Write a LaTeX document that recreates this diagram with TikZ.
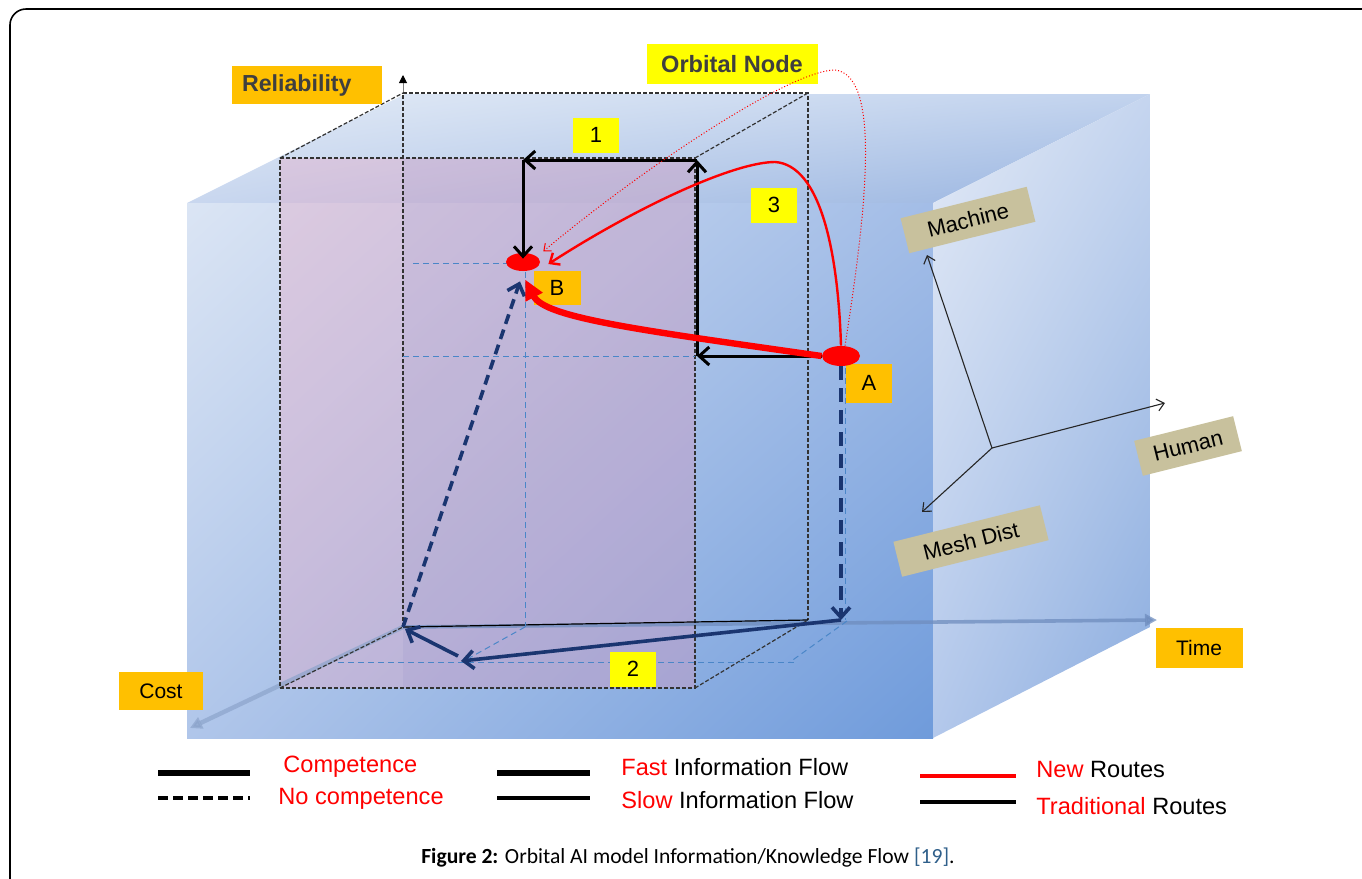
\documentclass[tikz,border=0pt]{standalone}
\usepackage{fontspec}
\setmainfont{Liberation Sans}
\newfontfamily\capfont{Carlito}
\usetikzlibrary{arrows.meta,shapes.geometric,shadings}
\definecolor{orangeL}{HTML}{FFC000}
\definecolor{yellowL}{HTML}{FFFF00}
\definecolor{tanL}{HTML}{C8C19D}
\definecolor{navyL}{HTML}{1A3570}
\definecolor{redL}{HTML}{FF0000}
\definecolor{txtgray}{HTML}{3F3F3F}
\definecolor{refblue}{HTML}{2F5F8A}
\definecolor{projblue}{HTML}{4A86C8}
\definecolor{axisgray}{HTML}{6F8DBE}
\definecolor{tUL}{HTML}{E3EBF6}
\definecolor{tUR}{HTML}{C2D3EE}
\definecolor{tLL}{HTML}{C9D7EF}
\definecolor{tLR}{HTML}{98B4E0}
\definecolor{fUL}{HTML}{DBE5F4}
\definecolor{fUR}{HTML}{A3BDE7}
\definecolor{fLL}{HTML}{B0C6EA}
\definecolor{fLR}{HTML}{6F9BDB}
\definecolor{sUL}{HTML}{E3EAF6}
\definecolor{sUR}{HTML}{C5D5EF}
\definecolor{sLL}{HTML}{B3C8EB}
\definecolor{sLR}{HTML}{8AACDF}
\definecolor{pinkT}{HTML}{E8A8C4}
\definecolor{lavT}{HTML}{7070B8}
\begin{document}
\begin{tikzpicture}[x=0.5pt,y=-0.5pt,
  obox/.style={fill=orangeL, inner sep=0pt, font=\fontsize{10.5}{12}\selectfont},
  ybox/.style={fill=yellowL, inner sep=0pt, minimum width=23pt, minimum height=17.5pt, font=\fontsize{11}{12}\selectfont},
  tbox/.style={fill=tanL, inner sep=0pt, minimum height=18pt, font=\fontsize{11}{12}\selectfont, rotate=14},
  ell/.style={ellipse, fill=redL, inner sep=0pt},
  wire/.style={black!80, line width=0.6pt, dash pattern=on 2pt off 1pt},
  proj/.style={projblue, line width=0.5pt, dash pattern=on 3pt off 2pt},
  trad/.style={black, line width=1.5pt, -{Straight Barb[length=5pt,width=9pt]}},
  navy/.style={navyL, line width=1.8pt, -{Straight Barb[length=5pt,width=9pt]}},
  rthick/.style={redL, line width=3.2pt, -{Triangle[length=10pt,width=9pt]}},
  rmid/.style={redL, line width=1.2pt, -{Straight Barb[length=4pt,width=7pt]}},
  rdot/.style={redL, line width=0.5pt, densely dotted, -{Straight Barb[length=3pt,width=5pt]}},
  small/.style={black!85, line width=0.55pt, -{Straight Barb[length=3.5pt,width=6pt]}},
  leg/.style={anchor=west, inner sep=0pt, font=\fontsize{11.8}{13}\selectfont}
]
\useasboundingbox (0,0) rectangle (1362,879);
% frame
\draw[black, line width=0.8pt, rounded corners=8pt] (10,900) -- (10,9) -- (1380,9);

% big cube
\shade[upper left=tUL, upper right=tUR, lower left=tLL, lower right=tLR]
  (187,203) -- (405,94) -- (1150,94) -- (933,203) -- cycle;
\shade[upper left=fUL, upper right=fUR, lower left=fLL, lower right=fLR]
  (187,203) -- (933,203) -- (933,738) -- (187,738) -- cycle;
\shade[upper left=sUL, upper right=sUR, lower left=sLL, lower right=sLR]
  (933,203) -- (1150,94) -- (1150,627) -- (933,738) -- cycle;

% inner box tint
\fill[fill=pinkT, fill opacity=0.38] (280,158) -- (695,158) -- (695,688) -- (280,688) -- cycle;
\fill[fill=lavT, fill opacity=0.09] (403,158) -- (695,158) -- (695,688) -- (403,688) -- cycle;

% axes
\coordinate (O) at (403,627);
\coordinate (Tend) at (1157,620);
\coordinate (Cend) at (190,728);
\coordinate (Rtop) at (403,93);
\coordinate (Rend) at (403,75);
\draw[axisgray, line width=1.8pt, opacity=0.75, -{Triangle[length=6pt,width=6pt]}] (O) -- (Tend);
\draw[axisgray!80, line width=2.2pt, opacity=0.7, -{Triangle[length=6pt,width=6pt]}] (O) -- (Cend);
\draw[black!50, line width=0.5pt, -{Triangle[length=4pt,width=4pt,color=black]}] (Rtop) -- (Rend);

% inner box wireframe
\draw[wire] (280,158) -- (695,158) -- (695,688) -- (280,688) -- cycle;
\draw[wire] (403,93) -- (808,93) -- (808,620);
\draw[wire] (O) -- (Rtop);
\draw[wire] (280,158) -- (403,93);
\draw[wire] (695,158) -- (808,93);
\draw[wire] (280,688) -- (O);
\draw[wire] (695,688) -- (808,620);
\draw[black, line width=0.6pt] (O) -- (808,620);

% projection lines
\draw[proj] (413,263) -- (508,263);
\draw[proj] (403,356) -- (695,356);
\draw[proj] (525,272) -- (525,627);
\draw[proj] (845,368) -- (845,620);
\draw[proj] (338,662) -- (795,662);
\draw[proj] (525,627) -- (462,662);
\draw[proj] (847,621) -- (790,662);

% labels
\node[obox, minimum width=75pt, minimum height=19pt, text width=65pt, align=left, font=\bfseries\fontsize{11.6}{13}\selectfont, text=txtgray] (rel) at (307,85) {Reliability};
\node[fill=yellowL, inner sep=0pt, minimum width=85.5pt, minimum height=20pt, font=\bfseries\fontsize{11.8}{13}\selectfont, text=txtgray] (orb) at (732,64) {Orbital Node};
\node[ybox] (n1) at (596,135) {1};
\node[ybox] (n3) at (774,205) {3};
\node[ybox] (n2) at (633,669) {2};
\node[obox, minimum width=23.5pt, minimum height=17pt, font=\fontsize{11}{12}\selectfont] (lB) at (557,288) {B};
\node[obox, minimum width=23pt, minimum height=19.5pt, font=\fontsize{11}{12}\selectfont] (lA) at (869,383) {A};
\node[obox, minimum width=42pt, minimum height=19pt] (cost) at (161,691) {Cost};
\node[obox, minimum width=43.5pt, minimum height=20pt] (time) at (1199,648) {Time};
\node[tbox, minimum width=65pt] (mach) at (968,220) {Machine};
\node[tbox, minimum width=51pt] (hum) at (1188,446) {Human};
\node[tbox, minimum width=75.5pt] (mesh) at (971,541) {Mesh Dist};

% points
\node[ell, minimum width=17pt, minimum height=9pt] (B) at (523,262) {};
\node[ell, minimum width=19pt, minimum height=10pt] (A) at (841,356) {};

% route 1 (traditional)
\coordinate (c1) at (697,356);
\coordinate (c2) at (697,160);
\coordinate (c3) at (B.north |- c2);
\draw[trad] (A.west) -- (c1);
\draw[trad] (c1) -- (c2);
\draw[trad] (c2) -- (c3);
\draw[trad] (c3) -- ([yshift=-3pt]B.north);

% route 2 (navy)
\coordinate (d1) at (A.south |- 0,620);
\coordinate (d2) at (461,661);
\coordinate (d3) at (458,656);
\draw[navy, dash pattern=on 7pt off 4pt] (A.south) -- (d1);
\draw[navy] (d1) -- (d2);
\draw[navy] (d3) -- ([shift={(2,2)}]O);
\draw[navy, dash pattern=on 5pt off 3pt] (O) -- ([shift={(-3,10)}]B.south);

% new routes (red)
\draw[rthick] (A.west) .. controls (640,330) and (545,318) .. ([shift={(2,8)}]B.south);
\draw[rmid] (A.north) .. controls (838,250) and (820,165) .. (775,162) .. controls (735,162) and (640,205) .. ([shift={(8,2)}]B.east);
\draw[rdot] ([xshift=2pt]A.north) .. controls (868,200) and (880,75) .. (835,70) .. controls (790,70) and (640,170) .. ([shift={(8,-4)}]B.north east);

% right axes
\coordinate (H0) at (992,448);
\coordinate (Hm) at (927,255);
\coordinate (Hh) at (1165,403);
\coordinate (Hd) at (922,512);
\draw[small] (H0) -- (Hm);
\draw[small] (H0) -- (Hh);
\draw[small] (H0) -- (Hd);

% legend
\draw[black, line width=3pt] (158,773) -- (250,773);
\draw[black, line width=1.6pt, dash pattern=on 5pt off 2.5pt] (158,798) -- (250,798);
\draw[black, line width=3pt] (497,773) -- (590,773);
\draw[black, line width=1.6pt] (497,798) -- (590,798);
\draw[redL, line width=1.6pt] (920,776) -- (1016,776);
\draw[black, line width=1.6pt] (920,802) -- (1016,802);
\node[leg, text=redL] (lg1) at (283,767) {Competence};
\node[leg, text=redL] (lg2) at (278,799) {No competence};
\node[leg] (lg3) at (621,767) {\textcolor{redL}{Fast} Information Flow};
\node[leg] (lg4) at (621,800) {\textcolor{redL}{Slow} Information Flow};
\node[leg] (lg5) at (1036,769) {\textcolor{redL}{New} Routes};
\node[leg] (lg6) at (1036,806) {\textcolor{redL}{Traditional} Routes};

% caption
\node[inner sep=0pt, font=\capfont\fontsize{10.8}{12}\selectfont] (cap) at (688,858) {\textbf{Figure 2:} Orbital AI model Information/Knowledge Flow \textcolor{refblue}{[19]}.};
\end{tikzpicture}
\end{document}
